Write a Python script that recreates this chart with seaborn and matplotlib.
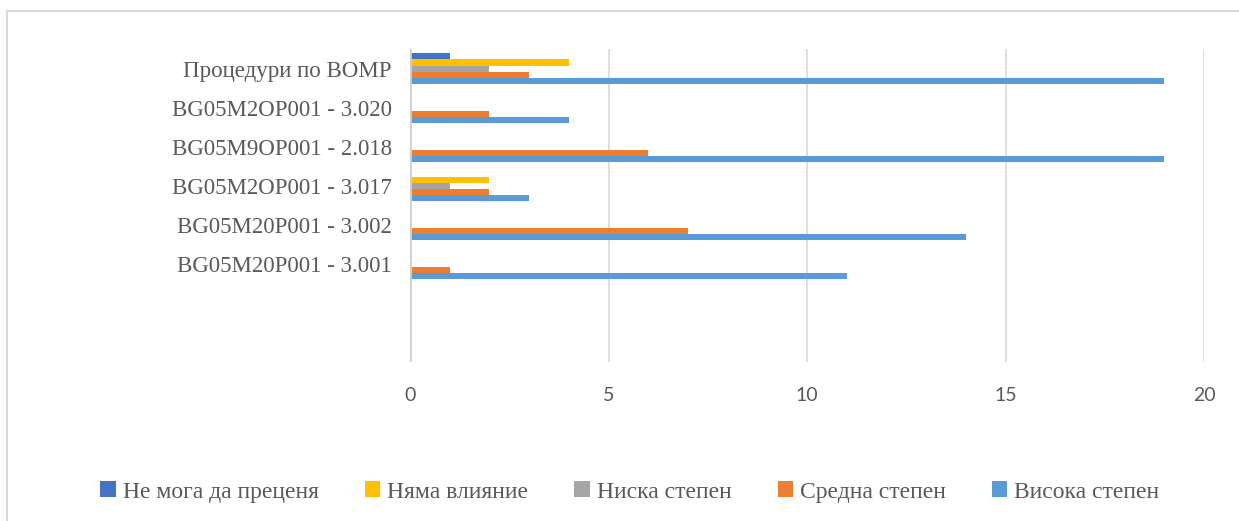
import pandas as pd
import matplotlib.pyplot as plt
import seaborn as sns
from matplotlib.patches import Rectangle

# Данни
kategorii = ["Процедури по BOMP", "BG05M2OP001 - 3.020", "BG05M9OP001 - 2.018",
             "BG05M2OP001 - 3.017", "BG05M20P001 - 3.002", "BG05M20P001 - 3.001", "", " "]
serii = ["Не мога да преценя", "Няма влияние", "Ниска степен", "Средна степен", "Висока степен"]
ne_moga = [1, 0, 0, 0, 0, 0, 0, 0]
nyama = [4, 0, 0, 2, 0, 0, 0, 0]
niska = [2, 0, 0, 1, 0, 0, 0, 0]
sredna = [3, 2, 6, 2, 7, 1, 0, 0]
visoka = [19, 4, 19, 3, 14, 11, 0, 0]
cveta = ["#4472C4", "#FFC000", "#A5A5A5", "#ED7D31", "#5B9BD5"]

redove = []
for s, vals in zip(serii, [ne_moga, nyama, niska, sredna, visoka]):
    for k, v in zip(kategorii, vals):
        redove.append({"kategoria": k, "seria": s, "stoinost": v})
df = pd.DataFrame(redove)

sns.set_style("white")
fig = plt.figure(figsize=(12.39, 5.21), dpi=100)
ax = fig.add_axes([410 / 1239, 1 - 362 / 521, (1204 - 410) / 1239, (362 - 49) / 521])

sns.barplot(data=df, y="kategoria", x="stoinost", hue="seria", order=kategorii,
            hue_order=serii, palette=cveta, orient="h", width=0.78, gap=0,
            saturation=1, linewidth=0, ax=ax, legend=True)

ax.set_xlim(0, 20)
ax.set_xticks([0, 5, 10, 15, 20])
ax.set_ylim(7.5, -0.5)
ax.set_xlabel("")
ax.set_ylabel("")
ax.grid(axis="x", color="#d9d9d9", linewidth=1.2)
ax.set_axisbelow(True)
for sp in ax.spines.values():
    sp.set_visible(False)
ax.axvline(0, color="#d0d0d0", linewidth=2, zorder=1)
ax.tick_params(axis="both", length=0)
ax.tick_params(axis="x", pad=18)
for t in ax.get_xticklabels():
    t.set_fontfamily("Lato")
    t.set_fontsize(14)
    t.set_color("#595959")
for t in ax.get_yticklabels():
    t.set_fontfamily("Liberation Serif")
    t.set_fontsize(16.5)
    t.set_color("#595959")
ax.tick_params(axis="y", pad=13)

h, l = ax.get_legend_handles_labels()
ax.legend_.remove()
fig.legend(h, l, loc="center", bbox_to_anchor=(630 / 1239, 1 - 492 / 521), ncol=5,
           frameon=False, handlelength=0.65, handleheight=0.65, handletextpad=0.3,
           columnspacing=1.95, prop={"family": "Liberation Serif", "size": 17},
           labelcolor="#595959")

fig.patches.append(Rectangle((7 / 1239, -0.1), 1.2, 1 - 11 / 521 + 0.1,
                             transform=fig.transFigure, fill=False,
                             edgecolor="#d9d9d9", linewidth=1.5))

fig.savefig("out.png", dpi=100)
